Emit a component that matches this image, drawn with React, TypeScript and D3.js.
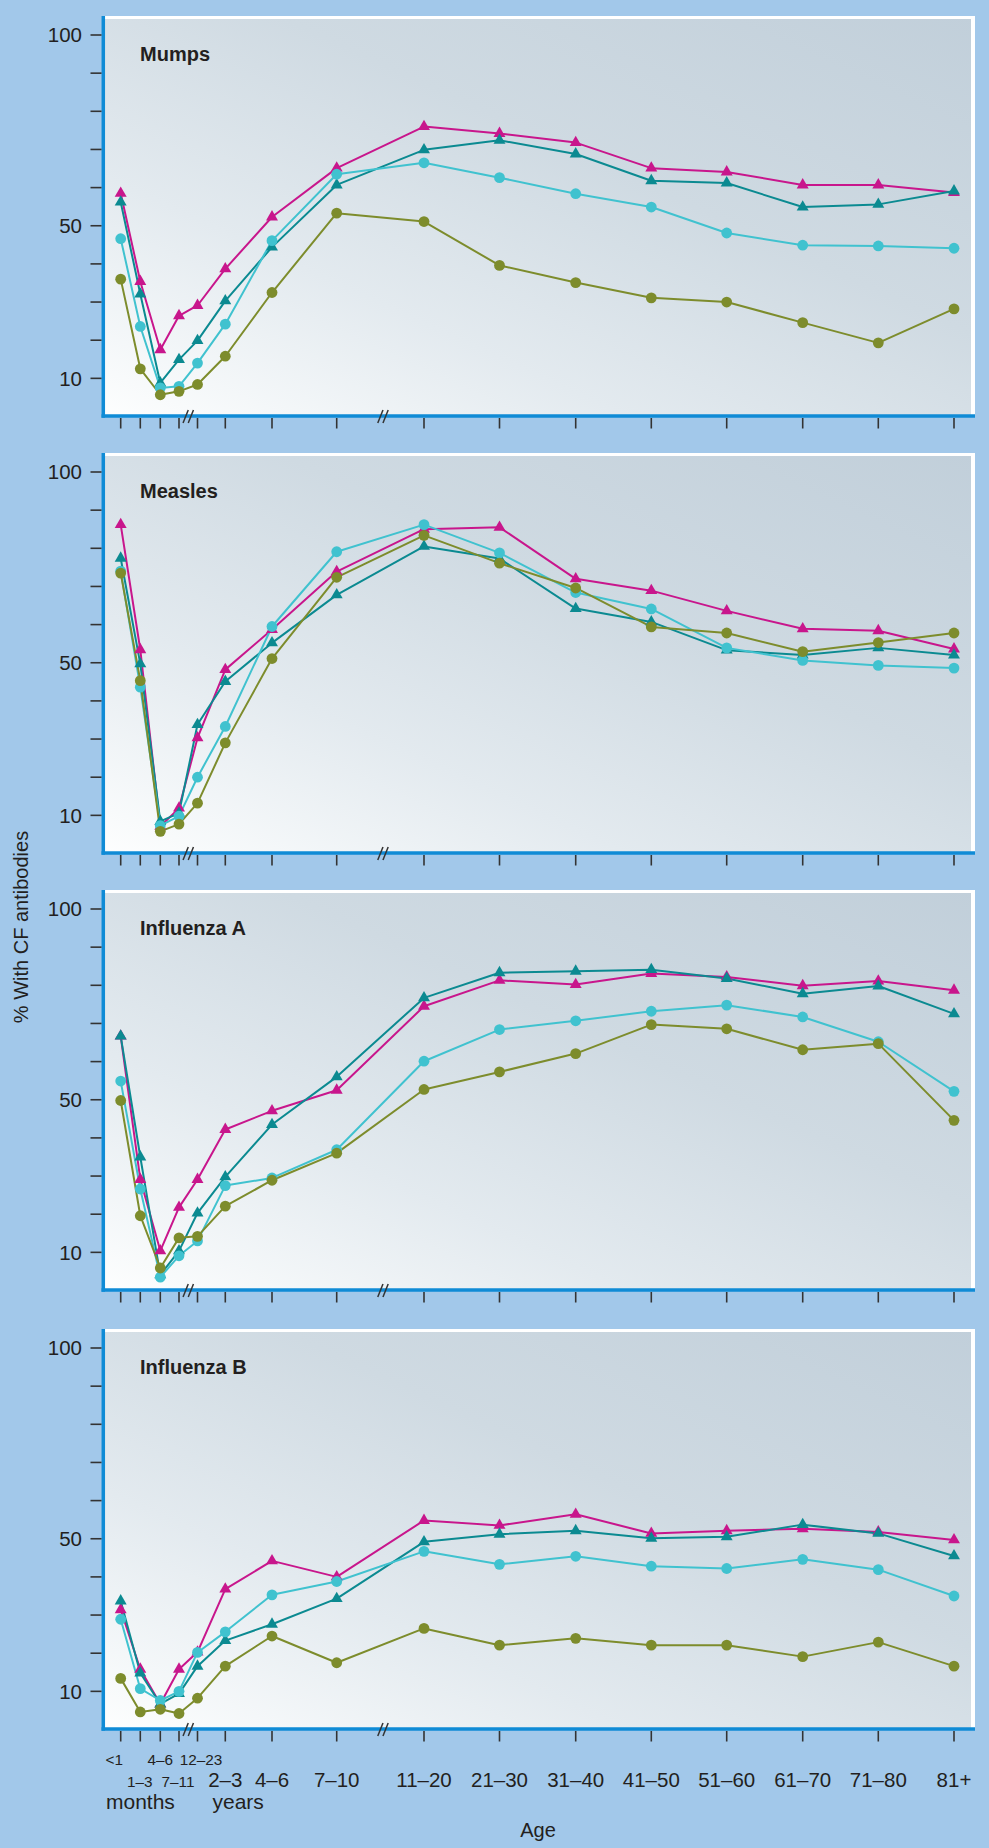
import React from "react";
import * as d3 from "d3";

// ---------- data ----------
const ageLabels = ["<1", "1–3", "4–6", "7–11", "12–23", "2–3", "4–6", "7–10", "11–20", "21–30", "31–40", "41–50", "51–60", "61–70", "71–80", "81+"];
const panelTitles = ["Mumps", "Measles", "Influenza A", "Influenza B"];
const yTickValues = [10, 20, 30, 40, 50, 60, 70, 80, 90, 100];
const yTickLabelValues = [10, 50, 100];
const yAxisTitle = "% With CF antibodies";
const xAxisTitle = "Age";
const monthsLabel = "months";
const yearsLabel = "years";

// Mumps
const mumpsMagenta = [58.5, 35.4, 17.5, 26.4, 29.1, 38.7, 52.3, 65.1, 76.0, 74.2, 71.8, 65.1, 64.1, 60.7, 60.7, 58.7];
const mumpsTeal = [56.2, 32.1, 8.8, 14.9, 19.9, 30.3, 44.4, 60.7, 69.9, 72.4, 68.8, 61.8, 61.2, 54.9, 55.6, 59.1];
const mumpsCyan = [46.6, 23.6, 7.5, 7.9, 14.0, 24.2, 46.1, 63.5, 66.5, 62.6, 58.4, 54.9, 48.1, 44.9, 44.7, 44.1];
const mumpsOlive = [36.0, 12.5, 5.7, 6.6, 8.4, 15.8, 32.5, 53.3, 51.1, 39.6, 35.1, 31.1, 30.0, 24.6, 19.3, 28.2];

// Measles
const measlesMagenta = [86.2, 53.4, 7.1, 11.9, 30.3, 48.2, 58.7, 73.9, 85.0, 85.5, 72.0, 68.9, 63.6, 58.9, 58.4, 53.6];
const measlesTeal = [77.4, 49.7, 8.4, 10.6, 33.8, 45.1, 55.2, 67.8, 80.5, 77.3, 64.2, 60.7, 53.3, 52.0, 53.9, 52.0];
const measlesCyan = [74.0, 43.6, 7.3, 9.8, 20.0, 33.3, 59.5, 79.1, 86.2, 78.8, 68.4, 64.1, 53.9, 50.6, 49.3, 48.6];
const measlesOlive = [73.5, 45.3, 5.8, 7.7, 13.2, 29.0, 51.1, 72.4, 83.4, 76.1, 69.6, 59.4, 57.8, 52.9, 55.3, 57.8];

// Influenza A
const fluAMagenta = [66.7, 29.1, 10.4, 21.8, 29.1, 42.2, 47.1, 52.5, 74.5, 81.3, 80.2, 83.1, 82.2, 79.9, 81.1, 78.7];
const fluATeal = [66.7, 35.0, 4.1, 10.4, 20.3, 29.8, 43.5, 56.0, 76.7, 83.3, 83.7, 84.1, 81.8, 77.8, 79.8, 72.5];
const fluACyan = [54.9, 26.6, 3.5, 9.1, 13.0, 27.5, 29.5, 36.9, 60.1, 68.4, 70.7, 73.2, 74.8, 71.7, 65.2, 52.2];
const fluAOlive = [49.8, 19.6, 5.9, 13.8, 14.2, 22.1, 28.9, 36.0, 52.7, 57.3, 62.1, 69.7, 68.6, 63.1, 64.7, 44.6];

// Influenza B
const fluBMagenta = [31.4, 15.8, 6.7, 15.8, 20.3, 36.8, 44.2, 40.0, 54.8, 53.5, 56.4, 51.4, 52.1, 52.6, 51.8, 49.7];
const fluBTeal = [33.7, 14.8, 6.7, 9.4, 16.6, 23.3, 27.6, 34.3, 49.2, 51.2, 52.1, 50.1, 50.5, 53.7, 51.4, 45.5];
const fluBCyan = [28.9, 10.7, 7.6, 10.0, 20.2, 25.6, 35.3, 38.8, 46.7, 43.3, 45.4, 42.8, 42.2, 44.6, 41.9, 35.0];
const fluBOlive = [13.4, 4.6, 5.3, 4.2, 8.2, 16.6, 24.5, 17.5, 26.5, 22.1, 23.9, 22.1, 22.1, 19.1, 22.9, 16.6];

const panelSeries = [
  [mumpsMagenta, mumpsTeal, mumpsCyan, mumpsOlive],
  [measlesMagenta, measlesTeal, measlesCyan, measlesOlive],
  [fluAMagenta, fluATeal, fluACyan, fluAOlive],
  [fluBMagenta, fluBTeal, fluBCyan, fluBOlive],
];

// ---------- layout / style ----------
const W = 989;
const H = 1848;
const FONT = "'Liberation Sans', Arial, Helvetica, sans-serif";
const BG = "#a2c8ea";
const AXIS_BLUE = "#0f8bd6";
const TEXT = "#231f20";
const seriesColors = ["#c8168c", "#0b8a91", "#40c2cf", "#7d8c2c"];
const seriesShapes = ["triangle", "triangle", "circle", "circle"];
const drawOrder = [0, 1, 2, 3];

const panelLeft = 103;
const panelRight = 975;
const panelTops = [16, 453, 890, 1329];
const panelH = 400;
const yTopPad = 19;

// relative slot spacing of the age groups (irregular in the original)
const ageSlots = [0, 19.6, 39.6, 58.3, 76.8, 104.6, 151.3, 216, 303.3, 378.8, 455, 530.6, 606, 682, 757.6, 833.3];
const xStart = 120.7;
const xEnd = 954;
// tick label rows: 0 small upper, 1 small lower, 2 large
const labelRows = [0, 1, 0, 1, 0, 2, 2, 2, 2, 2, 2, 2, 2, 2, 2, 2];
const labelDx = [-6.5, -0.6, 0, -1, 3.6, 0, 0, 0, 0, 0, 0, 0, 0, 0, 0, 0];

const xScale = d3.scaleLinear().domain([0, ageSlots[ageSlots.length - 1]]).range([xStart, xEnd]);
const xOf = (i: number) => xScale(ageSlots[i]);

const triPath = d3.symbol(d3.symbolTriangle, 62)() as string;

function Panel({ idx }: { idx: number }) {
  const top = panelTops[idx];
  const bottom = top + panelH;
  const y = d3.scaleLinear().domain([0, 100]).range([bottom + 0.5, top + yTopPad]);
  const line = d3
    .line<number>()
    .x((_, i) => xOf(i))
    .y((d) => y(d));
  const series = panelSeries[idx];
  const breaks = [(xOf(3) + xOf(4)) / 2, xOf(7) + (xOf(8) - xOf(7)) * 0.53];
  return (
    <g>
      <rect x={panelLeft} y={top} width={panelRight - panelLeft} height={panelH} fill="url(#panelGrad)" />
      {/* white top/right border */}
      <line x1={panelLeft} x2={panelRight} y1={top + 1.5} y2={top + 1.5} stroke="#ffffff" strokeWidth={3} />
      <line x1={panelRight - 2} x2={panelRight - 2} y1={top} y2={bottom} stroke="#ffffff" strokeWidth={4} />
      {/* blue left/bottom axis */}
      <line x1={panelLeft + 0.3} x2={panelLeft + 0.3} y1={top} y2={bottom + 1.8} stroke={AXIS_BLUE} strokeWidth={3.5} />
      <line x1={panelLeft - 1.5} x2={panelRight} y1={bottom} y2={bottom} stroke={AXIS_BLUE} strokeWidth={3.5} />
      {/* y ticks */}
      {yTickValues.map((v) => (
        <line key={v} x1={90.5} x2={101.5} y1={y(v)} y2={y(v)} stroke="#333" strokeWidth={1.6} />
      ))}
      {yTickLabelValues.map((v) => (
        <text key={v} x={82} y={y(v)} dy="0.36em" textAnchor="end" fontSize={20.5} fill={TEXT} fontFamily={FONT}>
          {v}
        </text>
      ))}
      {/* x ticks */}
      {ageLabels.map((_, i) => (
        <line key={i} x1={xOf(i)} x2={xOf(i)} y1={bottom + 2} y2={bottom + 12.5} stroke="#333" strokeWidth={1.6} />
      ))}
      {/* axis break marks */}
      {breaks.map((bx, k) => (
        <g key={k}>
          {[-2.6, 2.6].map((d, j) => (
            <line key={j} x1={bx + d - 2.6} y1={bottom + 7} x2={bx + d + 2.6} y2={bottom - 6} stroke="#333" strokeWidth={1.5} />
          ))}
        </g>
      ))}
      {/* title */}
      <text x={140} y={top + 45} fontSize={20} fontWeight="bold" fill={TEXT} fontFamily={FONT}>
        {panelTitles[idx]}
      </text>
      {/* lines */}
      {drawOrder.map((s) => (
        <path key={"l" + s} d={line(series[s]) as string} fill="none" stroke={seriesColors[s]} strokeWidth={2} strokeLinejoin="round" />
      ))}
      {/* markers */}
      {drawOrder.map((s) => (
        <g key={"m" + s} fill={seriesColors[s]}>
          {series[s].map((v, i) =>
            seriesShapes[s] === "circle" ? (
              <circle key={i} cx={xOf(i)} cy={y(v)} r={5.4} />
            ) : (
              <path key={i} d={triPath} transform={`translate(${xOf(i)},${y(v)})`} />
            )
          )}
        </g>
      ))}
    </g>
  );
}

export default function App() {
  const lastBottom = panelTops[3] + panelH;
  return (
    <svg
      width={W}
      height={H}
      viewBox={`0 0 ${W} ${H}`}
      style={{ position: "absolute", left: 0, top: 0, display: "block" }}
      fontFamily={FONT}
    >
      <defs>
        <linearGradient id="panelGrad" x1="0" y1="1" x2="1" y2="0">
          <stop offset="0" stopColor="#fdfefe" />
          <stop offset="0.3" stopColor="#e3eaef" />
          <stop offset="0.6" stopColor="#cfdae2" />
          <stop offset="1" stopColor="#c1cfda" />
        </linearGradient>
      </defs>
      <rect x={0} y={0} width={W} height={H} fill={BG} />
      {panelTops.map((_, i) => (
        <Panel key={i} idx={i} />
      ))}
      {/* x tick labels under the last panel */}
      {ageLabels.map((lab, i) => {
        const row = labelRows[i];
        const yy = row === 0 ? lastBottom + 35.5 : lastBottom + 58;
        const fs = row === 2 ? 20.5 : 15.3;
        return (
          <text key={i} x={xOf(i) + labelDx[i]} y={yy} textAnchor="middle" fontSize={fs} fill={TEXT}>
            {lab}
          </text>
        );
      })}
      <text x={106} y={lastBottom + 80} fontSize={21} fill={TEXT}>
        {monthsLabel}
      </text>
      <text x={212.5} y={lastBottom + 80} fontSize={21} fill={TEXT}>
        {yearsLabel}
      </text>
      <text x={538} y={lastBottom + 107.5} textAnchor="middle" fontSize={20} fill={TEXT}>
        {xAxisTitle}
      </text>
      <text transform="translate(27.5,927) rotate(-90)" textAnchor="middle" fontSize={20} fill={TEXT}>
        {yAxisTitle}
      </text>
    </svg>
  );
}
